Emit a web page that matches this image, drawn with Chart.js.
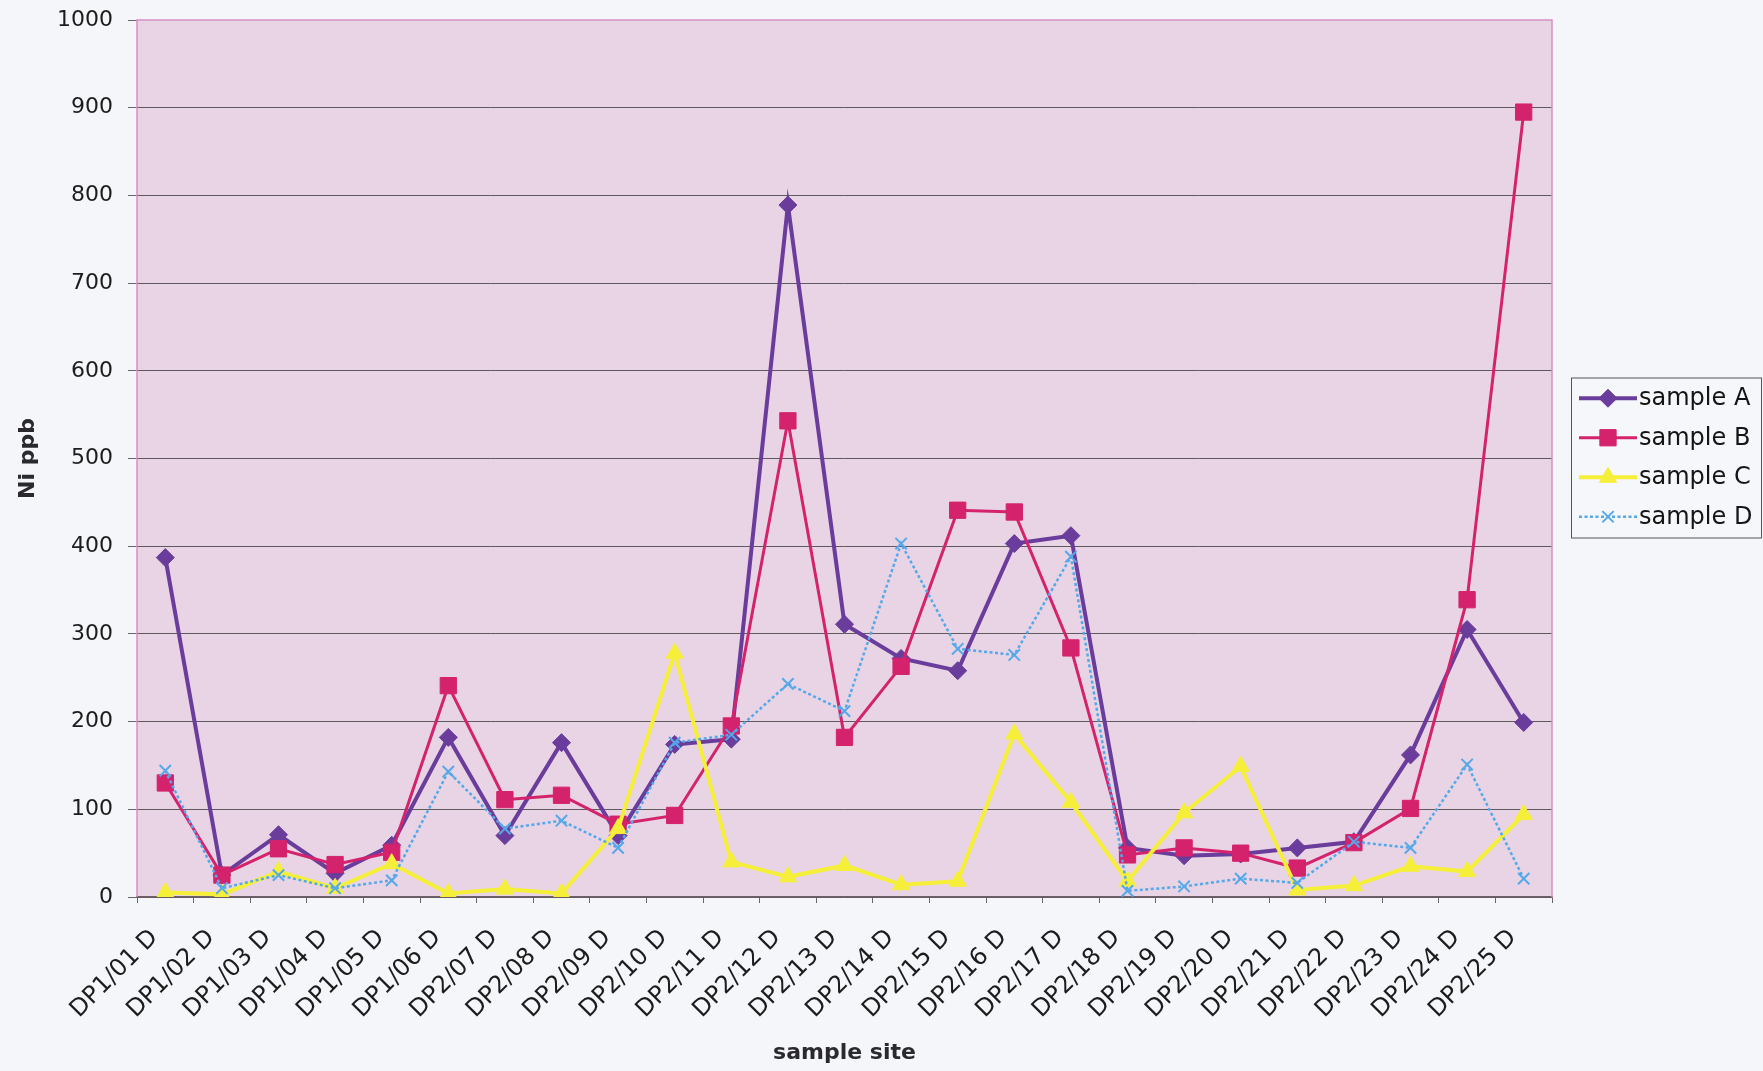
<!DOCTYPE html>
<html>
<head>
<meta charset="utf-8">
<title>Ni ppb by sample site</title>
<script src="https://cdn.jsdelivr.net/npm/chart.js@4/dist/chart.umd.min.js"></script>
<style>
  html, body { margin: 0; padding: 0; background: #f4f6fa; }
  #wrap { width: 1763px; height: 1071px; position: relative; }
</style>
</head>
<body>
<div id="wrap"><canvas id="chart" width="1763" height="1071"></canvas></div>
<script>
// Sample sites along the x axis
const sites = [
  'DP1/01 D', 'DP1/02 D', 'DP1/03 D', 'DP1/04 D', 'DP1/05 D', 'DP1/06 D',
  'DP2/07 D', 'DP2/08 D', 'DP2/09 D', 'DP2/10 D', 'DP2/11 D', 'DP2/12 D',
  'DP2/13 D', 'DP2/14 D', 'DP2/15 D', 'DP2/16 D', 'DP2/17 D', 'DP2/18 D',
  'DP2/19 D', 'DP2/20 D', 'DP2/21 D', 'DP2/22 D', 'DP2/23 D', 'DP2/24 D',
  'DP2/25 D'
];

// Nickel concentration (ppb) per sample
const sampleA = [387, 25, 71, 27, 59, 182, 70, 176, 70, 174, 180, 789, 311, 272, 258, 403, 412, 56, 47, 49, 56, 63, 162, 305, 199];
const sampleB = [130, 25, 55, 37, 51, 241, 111, 116, 83, 93, 195, 543, 182, 263, 441, 439, 284, 48, 56, 50, 33, 62, 101, 339, 895];
const sampleC = [5, 3, 29, 10, 38, 4, 9, 4, 78, 278, 40, 23, 36, 14, 18, 186, 108, 18, 96, 149, 8, 13, 35, 29, 94];
const sampleD = [144, 10, 25, 10, 19, 143, 78, 87, 56, 176, 185, 243, 212, 403, 283, 276, 388, 7, 12, 21, 16, 63, 56, 151, 21];

const seriesNames = ['sample A', 'sample B', 'sample C', 'sample D'];

// y axis range and step
const yMin = 0;
const yMax = 1000;
const yStep = 100;

const FONT = 'DejaVu Sans';
const plotFill = '#e8d4e4';
const plotEdge = '#d88fc0';

// Plot area background and pink frame
const plotFrame = {
  id: 'plotFrame',
  beforeDraw(chart) {
    const { ctx, chartArea: a } = chart;
    ctx.save();
    ctx.fillStyle = plotFill;
    ctx.fillRect(a.left, a.top, a.right - a.left, a.bottom - a.top);
    ctx.restore();
  },
  beforeDatasetsDraw(chart) {
    const { ctx, chartArea: a } = chart;
    ctx.save();
    ctx.strokeStyle = plotEdge;
    ctx.lineWidth = 1.5;
    ctx.beginPath();
    ctx.moveTo(a.left, a.bottom);
    ctx.lineTo(a.left, a.top);
    ctx.lineTo(a.right, a.top);
    ctx.lineTo(a.right, a.bottom);
    ctx.stroke();
    ctx.restore();
  }
};

// Framed legend to the right of the plot, line sample + marker + name
const boxLegend = {
  id: 'boxLegend',
  afterDraw(chart) {
    const { ctx, chartArea: a } = chart;
    const rows = chart.data.datasets.length;
    const rowH = 39.5;
    const w = 190;
    const h = rows * rowH + 2;
    const x0 = a.right + 19;
    const y0 = (a.top + a.bottom) / 2 - h / 2 - 1;
    ctx.save();
    ctx.fillStyle = '#f6f7fa';
    ctx.fillRect(x0, y0, w, h);
    ctx.strokeStyle = '#555';
    ctx.lineWidth = 1;
    ctx.strokeRect(x0 + 0.5, y0 + 0.5, w, h);
    chart.data.datasets.forEach((ds, i) => {
      const cy = y0 + 1 + rowH * i + rowH / 2;
      ctx.save();
      ctx.strokeStyle = ds.borderColor;
      ctx.lineWidth = ds.borderWidth;
      ctx.setLineDash(ds.borderDash || []);
      ctx.beginPath();
      ctx.moveTo(x0 + 8, cy);
      ctx.lineTo(x0 + 66, cy);
      ctx.stroke();
      ctx.restore();
      ctx.save();
      ctx.fillStyle = ds.pointBackgroundColor;
      ctx.strokeStyle = ds.pointBorderColor;
      ctx.lineWidth = ds.pointBorderWidth;
      Chart.helpers.drawPoint(ctx, {
        pointStyle: ds.pointStyle,
        radius: ds.pointRadius,
        rotation: 0,
        borderWidth: ds.pointBorderWidth
      }, x0 + 37, cy);
      ctx.restore();
      ctx.fillStyle = '#151515';
      ctx.font = '24px "' + FONT + '"';
      ctx.textBaseline = 'middle';
      ctx.textAlign = 'left';
      ctx.fillText(ds.label, x0 + 68, cy + 1);
    });
    ctx.restore();
  }
};

function series(label, values, color, opts) {
  return Object.assign({
    label: label,
    data: values,
    borderColor: color,
    backgroundColor: color,
    pointBackgroundColor: color,
    pointBorderColor: color,
    pointBorderWidth: 1,
    pointHoverRadius: 0,
    tension: 0,
    fill: false
  }, opts);
}

const ctx = document.getElementById('chart').getContext('2d');
new Chart(ctx, {
  type: 'line',
  data: {
    labels: sites,
    datasets: [
      series(seriesNames[0], sampleA, '#6a3c9c', { borderWidth: 4, pointStyle: 'rectRot', pointRadius: 9, order: 3 }),
      series(seriesNames[1], sampleB, '#d4226c', { borderWidth: 3, pointStyle: 'rect', pointRadius: 11.5, order: 2 }),
      series(seriesNames[2], sampleC, '#f6ef3a', { borderWidth: 4, pointStyle: 'triangle', pointRadius: 10, order: 1 }),
      series(seriesNames[3], sampleD, '#55a8ea', { borderWidth: 2.5, borderDash: [3, 2.5], pointStyle: 'crossRot', pointRadius: 8, pointBorderWidth: 2, order: 0 })
    ]
  },
  options: {
    responsive: false,
    animation: false,
    devicePixelRatio: 1,
    layout: { padding: { left: 0, right: 211, top: 20, bottom: 0 } },
    plugins: {
      legend: { display: false },
      tooltip: { enabled: false }
    },
    scales: {
      x: {
        type: 'category',
        offset: true,
        grid: {
          offset: true,
          drawOnChartArea: false,
          drawTicks: true,
          tickLength: 6,
          tickColor: '#666',
          tickWidth: 1
        },
        border: { display: true, color: '#6e5f66', width: 1.5 },
        ticks: {
          autoSkip: false,
          maxRotation: 45,
          minRotation: 45,
          padding: 10,
          color: '#1c1c1c',
          font: { family: FONT, size: 24 },
          // two trailing spaces keep each label clear of its tick
          callback(value) { return this.getLabelForValue(value) + '  '; }
        },
        title: {
          display: true,
          text: 'sample site',
          color: '#2a2a2e',
          font: { family: FONT, size: 22, weight: 'bold' },
          padding: { top: 0, bottom: 5 }
        },
        afterFit(scale) { scale.height = 174; }
      },
      y: {
        min: yMin,
        max: yMax,
        ticks: {
          stepSize: yStep,
          padding: 15,
          color: '#1c1c1c',
          // tight line height so the top label does not push the plot down
          font: { family: FONT, size: 22, lineHeight: 0.45 },
          callback(value) { return String(value); }
        },
        grid: {
          color: (c) => (c.tick && c.tick.value === yMax ? 'rgba(0,0,0,0)' : '#5e5a5e'),
          lineWidth: 1,
          tickLength: 9,
          tickColor: '#666',
          drawTicks: true
        },
        border: { display: false },
        title: {
          display: true,
          text: 'Ni ppb',
          color: '#2a2a2e',
          font: { family: FONT, size: 22, weight: 'bold' },
          padding: { top: 15, bottom: 0 }
        },
        afterFit(scale) { scale.width = 137; }
      }
    }
  },
  plugins: [plotFrame, boxLegend]
});
</script>
</body>
</html>
